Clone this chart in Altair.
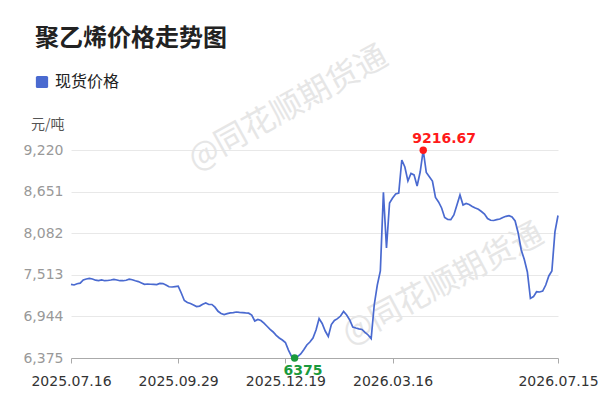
import altair as alt
import pandas as pd

title_text = "聚乙烯价格走势图"
series_name = "现货价格"
unit_text = "元/吨"
watermark_text = "@同花顺期货通"

tick_index = [0, 35, 70, 105, 159]
tick_dates = ["2025.07.16", "2025.09.29", "2025.12.19", "2026.03.16", "2026.07.15"]
y_ticks = [6375, 6944, 7513, 8082, 8651, 9220]

prices = [
    7383, 7374, 7391, 7398, 7442, 7456, 7464, 7456, 7439, 7434,
    7442, 7432, 7435, 7442, 7450, 7442, 7432, 7432, 7438, 7453,
    7445, 7431, 7420, 7401, 7383, 7387, 7384, 7382, 7380, 7395,
    7393, 7374, 7349, 7346, 7352, 7358, 7264, 7161, 7134, 7120,
    7100, 7078, 7085, 7110, 7127, 7107, 7107, 7070, 7014, 6984,
    6970, 6982, 6991, 6995, 7004, 6999, 6995, 6991, 6988, 6963,
    6881, 6903, 6888, 6851, 6809, 6766, 6731, 6684, 6649, 6621,
    6587, 6484, 6398, 6375, 6394, 6430, 6489, 6553, 6594, 6649,
    6758, 6915, 6847, 6744, 6669, 6833, 6888, 6913, 6949, 7011,
    6963, 6895, 6799, 6785, 6774, 6766, 6727, 6690, 6640, 7100,
    7373, 7565, 8640, 7880, 8495, 8563, 8618, 8630, 9083, 8987,
    8796, 8900, 8880, 8728, 8919, 9216.67, 8912, 8855, 8796, 8570,
    8509, 8427, 8297, 8269, 8267, 8331, 8468, 8605, 8468, 8488,
    8475, 8447, 8427, 8409, 8379, 8345, 8283, 8259, 8256, 8267,
    8276, 8297, 8313, 8322, 8304, 8249, 8085, 7852, 7722, 7551,
    7190, 7215, 7282, 7278, 7291, 7373, 7497, 7565, 8100, 8324,
]

LINE_COLOR = "#4a6ad0"
NUM_FONT = "DejaVu Sans"
CJK_FONT = "Noto Sans CJK SC"

df = pd.DataFrame({"i": list(range(len(prices))), "price": prices, "series": series_name})
imin = int(df["price"].idxmin())
imax = int(df["price"].idxmax())
ext = pd.DataFrame({
    "i": [imin, imax],
    "price": [prices[imin], prices[imax]],
    "label": [f"{prices[imin]:g}", f"{prices[imax]:g}"],
    "kind": ["min", "max"],
})

label_expr = " : ".join(f"datum.value == {i} ? '{d}'" for i, d in zip(tick_index, tick_dates)) + " : ''"

x_enc = alt.X(
    "i:Q",
    scale=alt.Scale(domain=[0, len(prices) - 1], nice=False, zero=False),
    axis=alt.Axis(
        values=tick_index, labelExpr=label_expr, title=None, grid=False,
        domainColor="#aaaaaa", tickColor="#aaaaaa", tickSize=5,
        labelFontSize=14, labelColor="#333333", labelPadding=11,
        labelFont=NUM_FONT, labelFlush=False, labelOverlap=False,
    ),
)
y_enc = alt.Y(
    "price:Q",
    scale=alt.Scale(domain=[y_ticks[0], y_ticks[-1]], nice=False, zero=False),
    axis=alt.Axis(
        values=y_ticks, format=",.0f", title=None, domain=False, ticks=False,
        gridColor="#e8e8e8", labelFontSize=14, labelColor="#999999",
        labelPadding=8, labelFont=NUM_FONT,
    ),
)

rounded_square = "M-0.75,-1 H0.75 Q1,-1 1,-0.75 V0.75 Q1,1 0.75,1 H-0.75 Q-1,1 -1,0.75 V-0.75 Q-1,-1 -0.75,-1 Z"

wm_df = pd.DataFrame({"t": [watermark_text]})
wm1 = alt.Chart(wm_df).mark_text(
    font=CJK_FONT, fontSize=32, color="#e6e6e6", angle=331, align="center", baseline="middle"
).encode(text="t:N", x=alt.value(217), y=alt.value(-42))
wm2 = alt.Chart(wm_df).mark_text(
    font=CJK_FONT, fontSize=32, color="#e6e6e6", angle=332, align="center", baseline="middle"
).encode(text="t:N", x=alt.value(372), y=alt.value(134))

line = alt.Chart(df).mark_line(strokeWidth=1.7).encode(
    x=x_enc, y=y_enc,
    color=alt.Color(
        "series:N",
        scale=alt.Scale(range=[LINE_COLOR]),
        legend=alt.Legend(
            orient="none", legendX=-37, legendY=-76, title=None,
            symbolType=rounded_square, symbolSize=150, symbolFillColor=LINE_COLOR,
            symbolStrokeWidth=0, labelFontSize=16, labelFont=CJK_FONT,
            labelColor="#222222", labelOffset=5, padding=0,
        ),
    ),
)

pts = alt.Chart(ext).mark_point(filled=True, size=55, opacity=1).encode(
    x="i:Q", y="price:Q",
    color=alt.Color("kind:N", scale=alt.Scale(domain=["min", "max"], range=["#1a9a3c", "#ff1a1a"]), legend=None),
)
min_lbl = alt.Chart(ext).transform_filter("datum.kind == 'min'").mark_text(
    font=NUM_FONT, fontSize=14, fontWeight="bold", color="#1a9a3c",
    align="left", baseline="alphabetic", dx=-11, dy=17,
).encode(x="i:Q", y="price:Q", text="label:N")
max_lbl = alt.Chart(ext).transform_filter("datum.kind == 'max'").mark_text(
    font=NUM_FONT, fontSize=14, fontWeight="bold", color="#ff1a1a",
    align="left", baseline="alphabetic", dx=-11, dy=-7,
).encode(x="i:Q", y="price:Q", text="label:N")

title = alt.Chart(pd.DataFrame({"t": [title_text]})).mark_text(
    font=CJK_FONT, fontSize=24, fontWeight="bold", color="#222222", align="left", baseline="middle"
).encode(text="t:N", x=alt.value(-36), y=alt.value(-111.5))
unit = alt.Chart(pd.DataFrame({"t": [unit_text]})).mark_text(
    font=CJK_FONT, fontSize=14, color="#555555", align="left", baseline="middle"
).encode(text="t:N", x=alt.value(-40), y=alt.value(-25))

chart = alt.layer(wm1, wm2, line, pts, min_lbl, max_lbl, title, unit).resolve_scale(
    color="independent"
).properties(
    width=487, height=208,
    autosize=alt.AutoSizeParams(type="none"),
    padding={"left": 71, "top": 150, "right": 42, "bottom": 50},
    background="white",
).configure_view(stroke=None)

chart.save("out.html", embed_options={"renderer": "svg", "actions": False})
